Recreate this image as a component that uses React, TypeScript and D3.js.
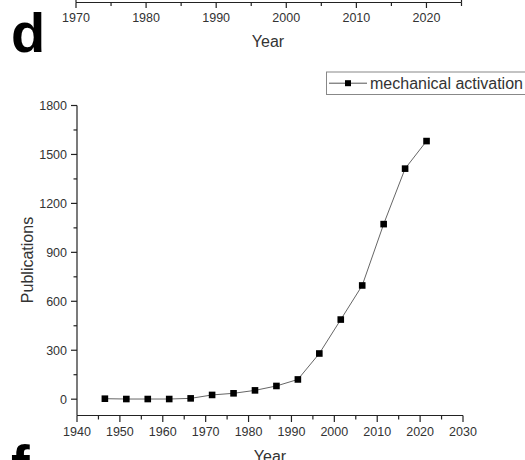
import React from "react";
import * as d3 from "d3";

// Publication counts per 5-year window (centre year of each window)
const years = [1946.5, 1951.5, 1956.5, 1961.5, 1966.5, 1971.5, 1976.5, 1981.5, 1986.5, 1991.5, 1996.5, 2001.5, 2006.5, 2011.5, 2016.5, 2021.5];
const publications = [3, 1, 1, 1, 5, 26, 36, 54, 81, 121, 280, 488, 697, 1073, 1413, 1582];

const xMajorTicks = [1940, 1950, 1960, 1970, 1980, 1990, 2000, 2010, 2020, 2030];
const yMajorTicks = [0, 300, 600, 900, 1200, 1500, 1800];

// Bottom axis of the panel above
const prevAxisTicks = [1970, 1980, 1990, 2000, 2010, 2020];

const seriesName = "mechanical activation";
const FONT = "'Liberation Sans', Arial, sans-serif";
const AXIS = "#222";
const TEXT = "#333";

export default function App() {
  const width = 525;
  const height = 460;

  const x = d3.scaleLinear().domain([1940, 2030]).range([77, 463]);
  const y = d3.scaleLinear().domain([-100, 1800]).range([415.5, 105.5]);

  const xMinor = d3.range(1945, 2030, 10);
  const yMinor = d3.range(150, 1800, 300);

  const prevX = d3.scaleLinear().domain([1970, 2025]).range([76, 461.5]);
  const prevMinor = d3.range(1975, 2026, 10);

  const line = d3
    .line<number>()
    .x((_, i) => x(years[i]))
    .y((d) => y(d));

  const [x0, x1] = x.range();
  const [yb, yt] = y.range();

  return (
    <svg
      width={width}
      height={height}
      style={{ position: "absolute", left: 0, top: 0, background: "#fff" }}
      fontFamily={FONT}
    >
      <rect width={width} height={height} fill="#fff" />

      {/* bottom axis of the panel above */}
      <g>
        <line x1={prevX(1970)} x2={prevX(2025)} y1={2.5} y2={2.5} stroke={AXIS} strokeWidth={1.2} />
        <line x1={prevX(1970)} x2={prevX(1970)} y1={0} y2={2.5} stroke={AXIS} strokeWidth={1.2} />
        {prevAxisTicks.map((t) => (
          <g key={t}>
            <line x1={prevX(t)} x2={prevX(t)} y1={2.5} y2={8} stroke={AXIS} strokeWidth={1.2} />
            <text x={prevX(t)} y={21.5} fontSize={12.5} textAnchor="middle" fill={TEXT}>
              {t}
            </text>
          </g>
        ))}
        {prevMinor.map((t) => (
          <line key={t} x1={prevX(t)} x2={prevX(t)} y1={2.5} y2={6} stroke={AXIS} strokeWidth={1.2} />
        ))}
        <line x1={prevX(2025)} x2={prevX(2025)} y1={0} y2={2.5} stroke={AXIS} strokeWidth={1.2} />
        <text x={268} y={47} fontSize={16} textAnchor="middle" fill={TEXT}>
          Year
        </text>
      </g>

      {/* panel letters */}
      <text x={11} y={52} fontSize={56} fontWeight="bold" fill="#000">
        d
      </text>
      <text x={11} y={484} fontSize={56} fontWeight="bold" fill="#000">
        f
      </text>

      {/* axes */}
      <line x1={x0} x2={x0} y1={yt} y2={yb} stroke={AXIS} strokeWidth={1.2} />
      <line x1={x0} x2={x1} y1={yb} y2={yb} stroke={AXIS} strokeWidth={1.2} />

      {yMajorTicks.map((t) => (
        <g key={t}>
          <line x1={x0 - 6} x2={x0} y1={y(t)} y2={y(t)} stroke={AXIS} strokeWidth={1.2} />
          <text x={x0 - 10} y={y(t) + 4.4} fontSize={12.5} textAnchor="end" fill={TEXT}>
            {t}
          </text>
        </g>
      ))}
      {yMinor.map((t) => (
        <line key={t} x1={x0 - 3.5} x2={x0} y1={y(t)} y2={y(t)} stroke={AXIS} strokeWidth={1.2} />
      ))}

      {xMajorTicks.map((t) => (
        <g key={t}>
          <line x1={x(t)} x2={x(t)} y1={yb} y2={yb + 6.5} stroke={AXIS} strokeWidth={1.2} />
          <text x={x(t)} y={436} fontSize={12.5} textAnchor="middle" fill={TEXT}>
            {t}
          </text>
        </g>
      ))}
      {xMinor.map((t) => (
        <line key={t} x1={x(t)} x2={x(t)} y1={yb} y2={yb + 4} stroke={AXIS} strokeWidth={1.2} />
      ))}

      <text
        transform={`translate(33,260) rotate(-90)`}
        fontSize={16}
        textAnchor="middle"
        fill={TEXT}
      >
        Publications
      </text>
      <text x={(x0 + x1) / 2} y={461.5} fontSize={16} textAnchor="middle" fill={TEXT}>
        Year
      </text>

      {/* series */}
      <path d={line(publications) ?? ""} fill="none" stroke="#666" strokeWidth={1} />
      {publications.map((v, i) => (
        <rect key={i} x={x(years[i]) - 3.3} y={y(v) - 3.3} width={6.6} height={6.6} fill="#000" />
      ))}

      {/* legend */}
      <g>
        <rect x={326.5} y={72} width={205} height={22.5} fill="#fff" stroke="#888" strokeWidth={1} />
        <line x1={329} x2={367} y1={83.2} y2={83.2} stroke="#555" strokeWidth={1} />
        <rect x={348 - 3} y={83.2 - 3} width={6} height={6} fill="#000" />
        <text x={370} y={88.8} fontSize={16} fill={TEXT}>
          {seriesName}
        </text>
      </g>
    </svg>
  );
}
